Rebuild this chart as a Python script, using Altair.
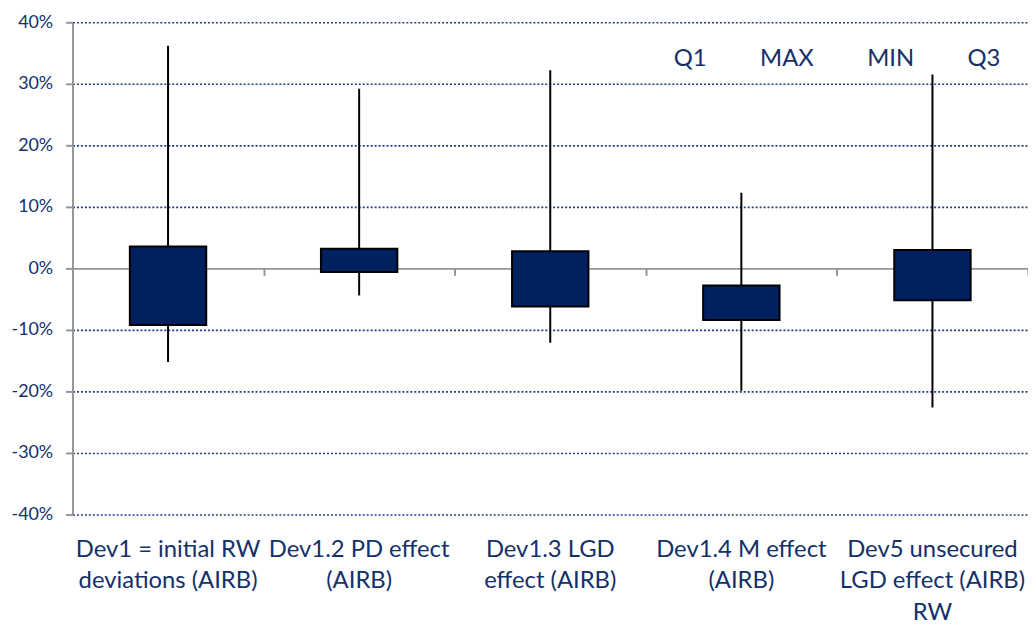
import altair as alt
import pandas as pd

categories = [
    "Dev1 = initial RW\ndeviations (AIRB)",
    "Dev1.2 PD effect\n(AIRB)",
    "Dev1.3 LGD\neffect (AIRB)",
    "Dev1.4 M effect\n(AIRB)",
    "Dev5 unsecured\nLGD effect (AIRB)\nRW",
]
q1_vals = [-9.2, -0.6, -6.2, -8.4, -5.2]
max_vals = [36.2, 29.2, 32.2, 12.3, 31.5]
min_vals = [-15.2, -4.4, -12.1, -19.9, -22.6]
q3_vals = [3.55, 3.2, 2.8, -2.8, 3.0]
series = ["Q1", "MAX", "MIN", "Q3"]
y_ticks = [-0.4, -0.3, -0.2, -0.1, 0.0, 0.1, 0.2, 0.3, 0.4]

NAVY = "#002060"
TEXT = "#14306A"
GRID = "#203C86"
GREY = "#969696"
W, H = 963, 496

df = pd.DataFrame({
    "cat": categories,
    "Q1": [v / 100 for v in q1_vals],
    "MAX": [v / 100 for v in max_vals],
    "MIN": [v / 100 for v in min_vals],
    "Q3": [v / 100 for v in q3_vals],
})
long_df = df.melt(id_vars="cat", value_vars=series, var_name="series", value_name="value")

xscale = alt.Scale(paddingInner=0, paddingOuter=0)
yscale = alt.Scale(domain=[-0.4, 0.4], nice=False)

yaxis = alt.Axis(
    values=y_ticks, title=None,
    labelExpr="replace(format(datum.value, '.0%'), '\u2212', '-')",
    labelFont="Lato", labelFontSize=18, labelColor=TEXT, labelPadding=13,
    domain=True, domainColor=GREY, domainWidth=2,
    ticks=True, tickColor=GREY, tickWidth=2, tickSize=7,
    grid=True,
    gridColor={"condition": {"test": "datum.value === 0", "value": "transparent"}, "value": GRID},
    gridDash=[2, 2], gridWidth=1.6,
)

label_axis = alt.Axis(
    orient="bottom", title=None, domain=False, ticks=False, grid=False,
    labelExpr="split(datum.label, '\\n')", labelAngle=0, labelLimit=500,
    labelFont="Lato", labelFontSize=24, labelColor=TEXT, labelLineHeight=32,
    labelPadding=23,
)

zero_axis = alt.Axis(
    orient="bottom", offset=-H / 2, title=None, labels=False, grid=False,
    domain=True, domainColor=GREY, domainWidth=2,
    ticks=True, tickColor=GREY, tickWidth=2, tickSize=7, tickBand="extent",
)

whisker = alt.Chart(df).mark_rule(color="black", strokeWidth=2).encode(
    x=alt.X("cat:N", sort=categories, scale=xscale, axis=label_axis),
    y=alt.Y("MIN:Q", scale=yscale, axis=yaxis),
    y2="MAX:Q",
)

box = alt.Chart(df).mark_bar(size=77, fill=NAVY, stroke="black", strokeWidth=2).encode(
    x=alt.X("cat:N", sort=categories, scale=xscale, axis=None),
    y=alt.Y("Q1:Q", scale=yscale, axis=yaxis),
    y2="Q3:Q",
)

legend_layer = alt.Chart(long_df).mark_point(opacity=0).encode(
    x=alt.X("cat:N", sort=categories, scale=xscale, axis=zero_axis),
    y=alt.Y("value:Q", scale=yscale, axis=yaxis),
    color=alt.Color(
        "series:N",
        scale=alt.Scale(domain=series, range=[NAVY] * 4),
        sort=series,
        legend=alt.Legend(
            orient="none", legendX=582, legendY=25, direction="horizontal",
            title=None, symbolSize=0, symbolOpacity=0, symbolStrokeWidth=0,
            labelOffset=0, labelFont="Lato", labelFontSize=24, labelColor=TEXT,
            columnPadding=29, padding=0,
        ),
    ),
)

chart = (
    alt.layer(legend_layer, whisker, box)
    .resolve_axis(x="independent")
    .properties(
        width=W, height=H,
        autosize=alt.AutoSizeParams(type="none"),
        padding={"left": 65, "top": 12, "right": 0, "bottom": 110},
        background="white",
    )
    .configure_view(stroke=None)
)

chart.save("out.html", embed_options={"renderer": "svg", "actions": False})
